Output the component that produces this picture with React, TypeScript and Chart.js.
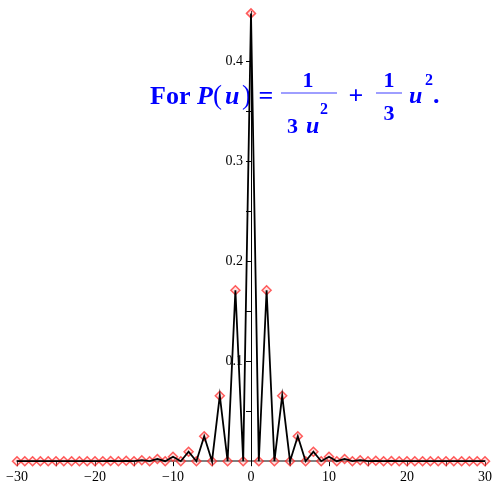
import React, { useEffect, useRef } from "react";
import { Chart, registerables } from "chart.js";
Chart.register(...registerables);

const xValues = [
  -30, -29, -28, -27, -26, -25, -24, -23, -22, -21, -20, -19, -18, -17, -16, -15, -14, -13, -12, -11,
  -10, -9, -8, -7, -6, -5, -4, -3, -2, -1, 0, 1, 2, 3, 4, 5, 6, 7, 8, 9, 10,
  11, 12, 13, 14, 15, 16, 17, 18, 19, 20, 21, 22, 23, 24, 25, 26, 27, 28, 29, 30,
];
const yValues = [
  0, 0, 0, 0, 0, 0, 0, 0, 0, 0, 0, 0, 0.0002, 0, 0.0004, 0, 0.001, 0, 0.0022, 0,
  0.0045, 0, 0.0095, 0, 0.025, 0, 0.0655, 0, 0.171, 0, 0.448, 0, 0.171, 0, 0.0655, 0, 0.025, 0, 0.0095, 0, 0.0045,
  0, 0.0022, 0, 0.001, 0, 0.0004, 0, 0.0002, 0, 0, 0, 0, 0, 0, 0, 0, 0, 0, 0, 0,
];
const xTickValues = [-30, -25, -20, -15, -10, -5, 0, 5, 10, 15, 20, 25, 30];
const xTickLabels = ["\u221230", "", "\u221220", "", "\u221210", "", "0", "", "10", "", "20", "", "30"];
const yTickValues = [0.05, 0.1, 0.15, 0.2, 0.25, 0.3, 0.35, 0.4];
const yTickLabels = ["", "0.1", "", "0.2", "", "0.3", "", "0.4"];

const SERIF = "'Liberation Serif', 'Times New Roman', serif";
const BLUE = "#0000ff";
const BAR = "#7f7fff";

// Place the vertical axis at x = 0 of the horizontal scale.
const yAxisAtZeroPlugin = {
  id: "yAxisAtZero",
  afterLayout(chart: any) {
    const xs = chart.scales.x;
    const ys = chart.scales.y;
    const px = xs.getPixelForValue(0);
    ys.right = px;
    ys.left = px - 40;
    ys.width = 40;
  },
};

const formulaPlugin = {
  id: "formula",
  beforeDatasetsDraw(chart: any) {
    const ctx = chart.ctx as CanvasRenderingContext2D;
    ctx.save();
    ctx.fillStyle = BLUE;
    ctx.textBaseline = "alphabetic";
    const put = (t: string, x: number, y: number, font: string, align: CanvasTextAlign = "left") => {
      ctx.font = font;
      ctx.textAlign = align;
      ctx.fillText(t, x, y);
    };
    const B26 = `bold 26px ${SERIF}`;
    const BI26 = `italic bold 26px ${SERIF}`;
    const B22 = `bold 22px ${SERIF}`;
    const BI24 = `italic bold 24px ${SERIF}`;
    const B16 = `bold 16px ${SERIF}`;
    put("For", 150, 104, B26);
    put("P", 197, 104, BI26);
    put("(", 213, 104, `27px ${SERIF}`);
    put("u", 225, 104, BI26);
    put(")", 242, 104, `27px ${SERIF}`);
    put("=", 266, 104, B26, "center");
    ctx.strokeStyle = BAR;
    ctx.lineWidth = 1.5;
    ctx.beginPath();
    ctx.moveTo(281, 93);
    ctx.lineTo(337, 93);
    ctx.moveTo(376, 93);
    ctx.lineTo(402, 93);
    ctx.stroke();
    put("1", 308, 87, B22, "center");
    put("3", 287, 133, B22);
    put("u", 306, 133, BI24);
    put("2", 320, 114, B16);
    put("+", 356, 104, B26, "center");
    put("1", 389, 87, B22, "center");
    put("3", 389, 120, B22, "center");
    put("u", 409, 103, BI24);
    put("2", 425, 85, B16);
    put(".", 433, 103, B26);
    ctx.restore();
  },
};

export default function App() {
  const ref = useRef<HTMLCanvasElement | null>(null);
  useEffect(() => {
    document.body.style.margin = "0";
    const points = xValues.map((x, i) => ({ x, y: yValues[i] }));
    const chart = new Chart(ref.current as HTMLCanvasElement, {
      type: "line",
      data: {
        datasets: [
          {
            data: points,
            borderColor: "#000000",
            borderWidth: 1.8,
            pointRadius: 0,
            tension: 0,
            fill: false,
            order: 0,
            clip: false as any,
          },
          {
            data: points,
            showLine: false,
            pointStyle: "rectRot",
            pointRadius: 4.5,
            pointBorderWidth: 1.5,
            pointBorderColor: "rgba(255,40,40,0.75)",
            pointBackgroundColor: "rgba(255,170,170,0.35)",
            order: 1,
            clip: false as any,
          },
        ],
      },
      options: {
        animation: false,
        responsive: true,
        maintainAspectRatio: false,
        layout: { padding: { left: 17, right: 15, top: 9, bottom: 11 } },
        plugins: { legend: { display: false }, tooltip: { enabled: false } },
        scales: {
          x: {
            type: "linear",
            min: -30,
            max: 30,
            position: "bottom",
            afterBuildTicks: (s: any) => {
              s.ticks = xTickValues.map((v) => ({ value: v }));
            },
            ticks: {
              autoSkip: false,
              maxRotation: 0,
              padding: 3,
              color: "#000",
              font: { family: SERIF, size: 14 },
              callback: (_v: any, i: number) => xTickLabels[i],
            },
            grid: { drawOnChartArea: false, color: "#000", tickLength: 5 },
            border: { color: "#808080", width: 2 },
          },
          y: {
            type: "linear",
            min: 0,
            max: 0.45,
            position: "left",
            afterFit: (s: any) => {
              s.width = 0;
            },
            afterBuildTicks: (s: any) => {
              s.ticks = yTickValues.map((v) => ({ value: v }));
            },
            ticks: {
              padding: 3,
              color: "#000",
              font: { family: SERIF, size: 14 },
              callback: (_v: any, i: number) => yTickLabels[i],
            },
            grid: { drawOnChartArea: false, color: "#000", tickLength: 5 },
            border: { color: "#000", width: 1 },
          },
        },
      },
      plugins: [yAxisAtZeroPlugin, formulaPlugin],
    });
    return () => chart.destroy();
  }, []);
  return (
    <div style={{ position: "relative", width: 500, height: 500 }}>
      <canvas ref={ref} />
    </div>
  );
}
